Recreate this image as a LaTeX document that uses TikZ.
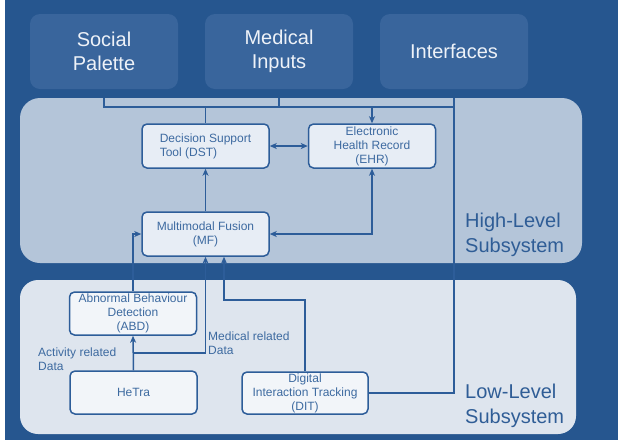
\documentclass[tikz,border=0pt]{standalone}
\usepackage{fontspec}
\setmainfont{Liberation Sans}
\usetikzlibrary{arrows.meta}
\definecolor{bgblue}{HTML}{26568F}
\definecolor{topfill}{HTML}{39659C}
\definecolor{toptext}{HTML}{EEF2F8}
\definecolor{highfill}{HTML}{B4C5D9}
\definecolor{lowfill}{HTML}{DEE5EE}
\definecolor{nodeH}{HTML}{E7EDF5}
\definecolor{nodeL}{HTML}{F2F5F9}
\definecolor{linec}{HTML}{2D5D99}
\definecolor{textc}{HTML}{3D6AA0}
\definecolor{subc}{HTML}{2F5D96}
\tikzset{
  topbox/.style={fill=topfill, rounded corners=10pt, minimum width=148pt, minimum height=75pt,
    inner sep=0pt, align=center, text=toptext, font=\fontsize{20}{24}\selectfont},
  hnode/.style={draw=linec, fill=nodeH, line width=1.5pt, rounded corners=5pt,
    minimum width=127pt, minimum height=44pt, inner sep=0pt, align=center, text=textc,
    font=\fontsize{12}{14}\selectfont},
  lnode/.style={hnode, fill=nodeL, minimum height=43pt},
  conn/.style={draw=linec, line width=1.5pt},
  tip/.style={-{Stealth[length=7pt,width=6pt,inset=2pt]}},
  dtip/.style={{Stealth[length=7pt,width=6pt,inset=2pt]}-{Stealth[length=7pt,width=6pt,inset=2pt]}},
  lbl/.style={text=textc, font=\fontsize{12}{14}\selectfont, align=left, inner sep=0pt, anchor=west},
  sublbl/.style={text=subc, font=\fontsize{20}{25}\selectfont, align=left, inner sep=0pt, anchor=west}
}
\begin{document}
\begin{tikzpicture}[x=1pt,y=-1pt]
\useasboundingbox (0,0) rectangle (618,440);
\fill[bgblue] (0,0) rectangle (618,440);
\fill[white] (0,0) rectangle (5,440);
% subsystem regions
\fill[highfill, rounded corners=20pt] (20,98) rectangle (582,263);
\fill[lowfill, rounded corners=18pt] (20,280) rectangle (576,434);
% top boxes
\node[topbox] (sp) at (104,51.5) {Social\\Palette};
\node[topbox] (mi) at (279,51.5) {Medical\\Inputs};
\node[topbox] (ifc) at (454,51.5) {Interfaces};
% inner nodes
\node[hnode, align=left] (dst) at (205.5,146) {Decision Support\\Tool (DST)};
\node[hnode] (ehr) at (372,146) {Electronic\\Health Record\\(EHR)};
\node[hnode] (mf) at (205.5,234) {Multimodal Fusion\\(MF)};
\node[lnode] (abd) at (133,313.5) {Abnormal Behaviour\\Detection\\(ABD)};
\node[lnode] (hetra) at (133.5,392.5) {HeTra};
\node[lnode, minimum width=126pt, minimum height=42pt] (dit) at (305,393) {Digital\\Interaction Tracking\\(DIT)};
% labels
\node[sublbl] (hl) at (465,234.4) {High-Level\\Subsystem};
\node[sublbl] (ll) at (465,405.4) {Low-Level\\Subsystem};
\node[lbl] (act) at (38,359.5) {Activity related\\Data};
\node[lbl] (med) at (208,343.5) {Medical related\\Data};
% bus
\coordinate (bL) at (104,107);
\coordinate (bR) at (454,107);
\coordinate (top) at (0,98);
\coordinate (j1) at (133,353);
\coordinate (d1) at (224,300);
\draw[conn] (sp.south |- top) -- (bL) -- (bR);
\draw[conn] (mi.south |- top) -- (mi.south |- bL);
\draw[conn] (ifc.south |- top) -- (ifc.south |- dit.east) -- (dit.east);
\draw[conn] (dst.north |- bL) -- (dst.north);
\draw[conn, tip] (ehr.north |- bL) -- (ehr.north);
\draw[conn, dtip] (dst.east) -- (ehr.west);
\draw[conn, tip] (mf.north) -- (dst.south);
\draw[conn, dtip] (ehr.south) |- (mf.east);
\draw[conn, tip] (abd.north) |- (mf.west);
\draw[conn, tip] (hetra.north) -- (abd.south);
\draw[conn, tip] (j1) -| (mf.south);
\draw[conn, tip] (dit.north) |- (d1) -- (d1 |- mf.south);
\end{tikzpicture}
\end{document}
